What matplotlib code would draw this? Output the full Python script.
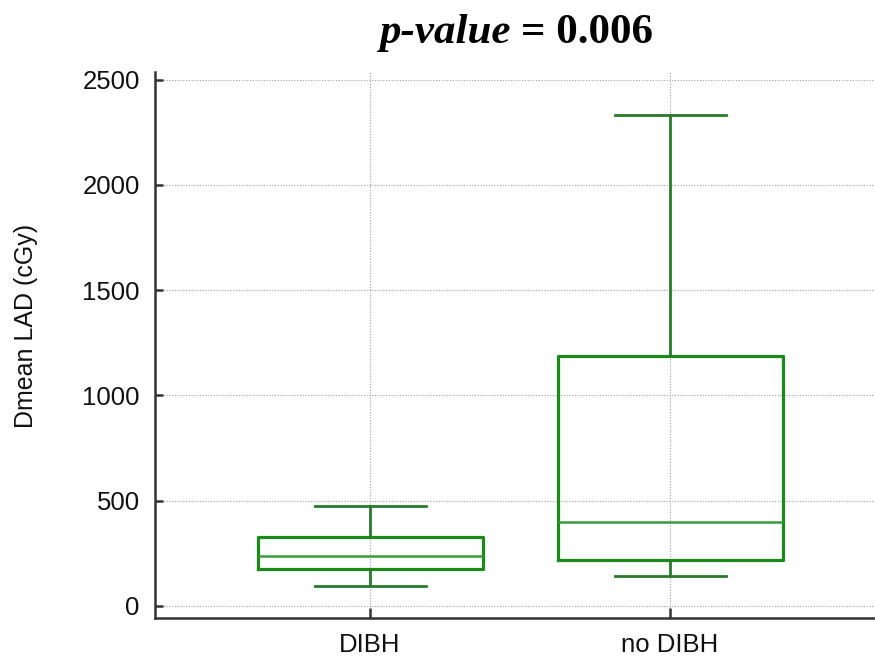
import matplotlib
matplotlib.use("Agg")
import matplotlib.pyplot as plt

# Box statistics (cGy)
groups = ["DIBH", "no DIBH"]
whisker_low = [95, 143]
q1 = [176, 219]
median = [238, 399]
q3 = [328, 1188]
whisker_high = [475, 2334]

y_ticks = [0, 500, 1000, 1500, 2000, 2500]

plt.rcParams["font.family"] = ["Liberation Sans", "DejaVu Sans"]

box_green = "#1b8a1b"
whisk_green = "#2a7a2a"
spine_col = "#333333"
text_col = "#111111"

fig = plt.figure(figsize=(8.75, 6.62), dpi=100)
W, H = 875, 662
ax = fig.add_axes([155 / W, 44 / H, 1 - 155 / W, (618 - 72) / H])

stats = []
for i, name in enumerate(groups):
    stats.append(
        {
            "label": name,
            "whislo": whisker_low[i],
            "q1": q1[i],
            "med": median[i],
            "q3": q3[i],
            "whishi": whisker_high[i],
            "fliers": [],
        }
    )

ax.bxp(
    stats,
    positions=[1, 2],
    widths=0.75,
    showfliers=False,
    boxprops=dict(color=box_green, linewidth=2.3),
    medianprops=dict(color="#3a9a3a", linewidth=1.8),
    whiskerprops=dict(color=whisk_green, linewidth=2.0),
    capprops=dict(color=whisk_green, linewidth=2.0),
    capwidths=0.37,
)

ax.set_xlim(0.283, 2.683)
ax.set_ylim(-57, 2536)
ax.set_yticks(y_ticks)
ax.set_xticks([1, 2], groups)

ax.grid(True, linestyle=(0, (1, 1.5)), color="#a0a0a0", linewidth=0.8)
ax.set_axisbelow(True)

for side in ["top", "right"]:
    ax.spines[side].set_visible(False)
for side in ["left", "bottom"]:
    ax.spines[side].set_color(spine_col)
    ax.spines[side].set_linewidth(1.8)

ax.tick_params(axis="y", direction="in", length=6, width=1.8, color=spine_col,
               labelsize=18.5, pad=11, labelcolor=text_col)
ax.tick_params(axis="x", direction="in", length=7, width=1.8, color=spine_col,
               labelsize=18.5, pad=11, labelcolor=text_col)

ax.set_ylabel("Dmean LAD (cGy)", fontsize=18, color=text_col)
ax.yaxis.set_label_coords(-0.163, 0.535)

# Title with italic "p-value" part
fig.text(511 / W, 1 - 43 / H, "p-value", ha="right", va="baseline",
         fontsize=31, fontweight="bold", fontstyle="italic",
         family="Liberation Serif")
fig.text(521 / W, 1 - 43 / H, "= 0.006", ha="left", va="baseline",
         fontsize=31, fontweight="bold", family="Liberation Serif")

fig.savefig("out.png", dpi=100)
